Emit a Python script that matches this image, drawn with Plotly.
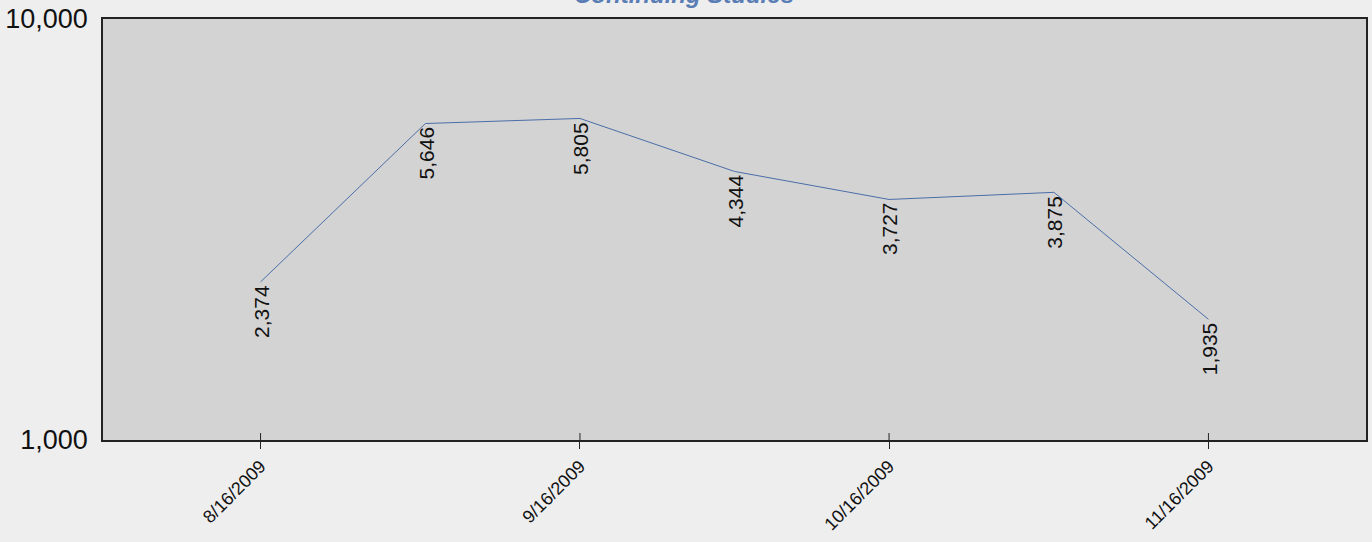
import math
import plotly.graph_objects as go

dates = ["2009-08-16", "2009-09-01", "2009-09-16", "2009-10-01", "2009-10-16", "2009-11-01", "2009-11-16"]
values = [2374, 5646, 5805, 4344, 3727, 3875, 1935]
tick_vals = ["2009-08-16", "2009-09-16", "2009-10-16", "2009-11-16"]
tick_text = ["8/16/2009", "9/16/2009", "10/16/2009", "11/16/2009"]
y_tick_vals = [1000, 10000]
y_tick_text = ["1,000", "10,000"]
title_text = "Continuing Studies"

PLOT_H = 423
FONT = "Liberation Sans, Arial"

fig = go.Figure()
fig.add_trace(go.Scatter(x=dates, y=values, mode="lines",
                         line=dict(color="#4a6ea8", width=1), hoverinfo="x+y"))

# annotations on a log axis take log10 positions
for d, v in zip(dates, values):
    fig.add_annotation(x=d, y=math.log10(v), xref="x", yref="y", text=f"{v:,}", showarrow=False,
                       textangle=-90, yanchor="top", xanchor="center", yshift=-1, xshift=1,
                       font=dict(family=FONT, size=21, color="#111"))

fig.add_annotation(x=0.46, y=1 + 9 / PLOT_H, xref="paper", yref="paper", text=f"<b><i>{title_text}</i></b>",
                   showarrow=False, yanchor="bottom", xanchor="center",
                   font=dict(family=FONT, size=24, color="#5a7db5"))

# inner half of the crossing tick marks
for t in tick_vals:
    fig.add_shape(type="line", xref="x", yref="paper", x0=t, x1=t, y0=0, y1=7 / PLOT_H,
                  line=dict(color="#222", width=1))

fig.update_layout(
    width=1372, height=542,
    margin=dict(l=103, r=4, t=17, b=102),
    paper_bgcolor="#eeeeee", plot_bgcolor="#d3d3d3",
    showlegend=False,
    xaxis=dict(type="date", range=["2009-07-31 17:00", "2009-12-01 07:00"],
               tickvals=tick_vals, ticktext=tick_text, tickangle=-45,
               ticks="outside", ticklen=7, tickcolor="#222", tickwidth=1,
               showgrid=False, zeroline=False, showline=True, linecolor="#222", linewidth=1.5,
               mirror=True,
               tickfont=dict(family=FONT, size=18, color="#111")),
    yaxis=dict(type="log", range=[3, 4], tickvals=y_tick_vals, ticktext=y_tick_text,
               ticks="", showgrid=False, zeroline=False, showline=True, linecolor="#222",
               linewidth=1.5, mirror=True, ticklabelstandoff=8,
               tickfont=dict(family=FONT, size=27, color="#111")),
)

fig.write_html("out.html", config={"displayModeBar": False})

with open("out.html", encoding="utf-8") as f:
    html = f.read()
html = html.replace("<body>", '<body style="margin:0;background:#eeeeee">', 1)
with open("out.html", "w", encoding="utf-8") as f:
    f.write(html)
